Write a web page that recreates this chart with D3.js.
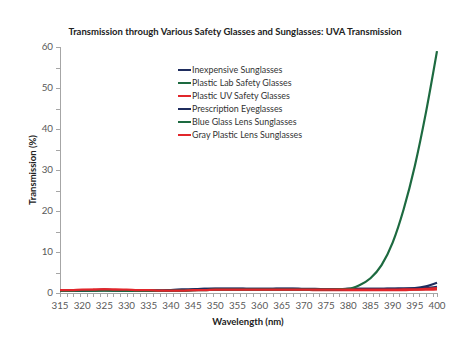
<!DOCTYPE html>
<html><head><meta charset="utf-8">
<script src="https://cdn.jsdelivr.net/npm/d3@7/dist/d3.min.js"></script>
<style>
body{margin:0;background:#fff;}
svg{display:block;font-family:Lato,"Open Sans",sans-serif;}
</style></head>
<body><svg id="c" width="470" height="340"></svg>
<script>
const wavelengths = [315,317.5,320,322.5,325,327.5,330,332.5,335,337.5,340,342.5,345,347.5,350,352.5,355,357.5,360,362.5,365,367.5,370,372.5,375,377.5,380,382.5,385,387.5,390,392.5,395,397.5,400];
const inexpensiveSunglasses = [0.6,0.6,0.7,0.7,0.8,0.7,0.7,0.6,0.6,0.6,0.7,0.8,0.9,1.0,1.0,1.0,1.0,1.0,1.0,1.0,1.0,1.0,0.9,0.9,0.9,0.9,1.0,1.0,1.0,1.0,1.1,1.1,1.2,1.6,2.5];
const plasticLabSafety = [0.5,0.5,0.6,0.6,0.7,0.6,0.6,0.5,0.5,0.5,0.6,0.6,0.7,0.8,0.8,0.8,0.8,0.8,0.8,0.8,0.8,0.8,0.8,0.8,0.8,0.8,0.8,0.8,0.8,0.8,0.9,0.9,0.9,1.0,1.1];
const plasticUVSafety = [0.6,0.6,0.7,0.8,0.9,0.8,0.7,0.7,0.6,0.6,0.6,0.7,0.7,0.8,0.8,0.8,0.8,0.8,0.8,0.8,0.8,0.8,0.8,0.7,0.7,0.7,0.7,0.7,0.7,0.7,0.7,0.7,0.8,0.8,0.9];
const prescriptionEyeglasses = [0.5,0.6,0.6,0.7,0.7,0.7,0.6,0.6,0.6,0.6,0.7,0.8,0.9,1.0,1.1,1.1,1.1,1.0,1.0,1.0,1.1,1.1,1.0,1.0,0.9,0.9,1.0,1.0,1.0,1.0,1.0,1.1,1.1,1.2,1.5];
const blueGlassLens = [0.5,0.5,0.6,0.6,0.6,0.6,0.5,0.5,0.5,0.5,0.6,0.6,0.7,0.7,0.8,0.8,0.8,0.8,0.8,0.8,0.8,0.8,0.8,0.8,0.8,0.9,1.0,1.9,3.6,6.8,12.3,20.5,31.0,44.0,59.0];
const grayPlasticLens = [0.7,0.7,0.8,0.8,0.9,0.8,0.8,0.7,0.7,0.6,0.6,0.6,0.7,0.7,0.8,0.8,0.8,0.8,0.8,0.8,0.8,0.8,0.8,0.8,0.8,0.8,0.8,0.8,0.8,0.8,0.8,0.9,0.9,1.0,1.2];
const seriesNames = ["Inexpensive Sunglasses","Plastic Lab Safety Glasses","Plastic UV Safety Glasses","Prescription Eyeglasses","Blue Glass Lens Sunglasses","Gray Plastic Lens Sunglasses"];
const seriesColors = ["#1f2d5e","#1d6a40","#e1262b","#1f2d5e","#1d6a40","#e1262b"];
const xTickLabels = [315,320,325,330,335,340,345,350,355,360,365,370,375,380,385,390,395,400];
const yTickLabels = [0,10,20,30,40,50,60];
const seriesValues = [inexpensiveSunglasses,plasticLabSafety,plasticUVSafety,prescriptionEyeglasses,blueGlassLens,grayPlasticLens];

const svg = d3.select("#c");
const L = 60, R = 437, T = 47, B = 293;
const x = d3.scaleLinear().domain([315,400]).range([L,R]);
const y = d3.scaleLinear().domain([0,60]).range([B,T]);
const axisColor = "#a6a6a6", labelColor = "#595959";

svg.append("text").attr("x",235).attr("y",35).attr("text-anchor","middle")
  .attr("font-weight","bold").attr("font-size",9.5).attr("fill","#222")
  .text("Transmission through Various Safety Glasses and Sunglasses: UVA Transmission");

// y axis
const yMinor = d3.range(0,61,5);
const ya = svg.append("g");
ya.append("line").attr("x1",L+0.5).attr("x2",L+0.5).attr("y1",T).attr("y2",B).attr("stroke",axisColor);
ya.selectAll("line.t").data(yMinor).join("line").attr("class","t")
  .attr("x1",L-4).attr("x2",L).attr("y1",d=>Math.round(y(d))+0.5).attr("y2",d=>Math.round(y(d))+0.5).attr("stroke",axisColor);
ya.selectAll("text").data(yTickLabels).join("text")
  .attr("x",L-7).attr("y",d=>y(d)+3.4).attr("text-anchor","end").attr("font-size",9.8).attr("fill",labelColor).text(d=>d);

// x axis
const xMinor = d3.range(315,400.01,1.5).concat([400]);
const xa = svg.append("g");
xa.append("line").attr("x1",L).attr("x2",R).attr("y1",B+0.5).attr("y2",B+0.5).attr("stroke",axisColor);
xa.selectAll("line.t").data(xMinor).join("line").attr("class","t")
  .attr("x1",d=>Math.round(x(d))+0.5).attr("x2",d=>Math.round(x(d))+0.5).attr("y1",B).attr("y2",B+4).attr("stroke",axisColor);
xa.selectAll("text").data(xTickLabels).join("text")
  .attr("x",d=>x(d)).attr("y",B+16).attr("text-anchor","middle").attr("font-size",9.8).attr("fill",labelColor).text(d=>d);

svg.append("text").attr("x",248).attr("y",325).attr("text-anchor","middle").attr("font-weight","bold")
  .attr("font-size",9.5).attr("fill","#222").text("Wavelength (nm)");
svg.append("text").attr("transform","translate(36,170) rotate(-90)").attr("text-anchor","middle").attr("font-weight","bold")
  .attr("font-size",9.5).attr("fill","#222").text("Transmission (%)");

// lines
const line = d3.line().x((d,i)=>x(wavelengths[i])).y(d=>y(d)).curve(d3.curveMonotoneX);
svg.append("g").selectAll("path").data(seriesValues).join("path")
  .attr("d",d=>line(d)).attr("fill","none").attr("stroke",(d,i)=>seriesColors[i]).attr("stroke-width",2.2);

// legend
const lg = svg.append("g");
seriesNames.forEach((n,i)=>{
  const yy = 70 + i*13;
  lg.append("line").attr("x1",178).attr("x2",191).attr("y1",yy).attr("y2",yy).attr("stroke",seriesColors[i]).attr("stroke-width",2);
  lg.append("text").attr("x",192).attr("y",yy+3.2).attr("font-size",8.9).attr("fill","#333").text(n);
});
</script></body></html>
